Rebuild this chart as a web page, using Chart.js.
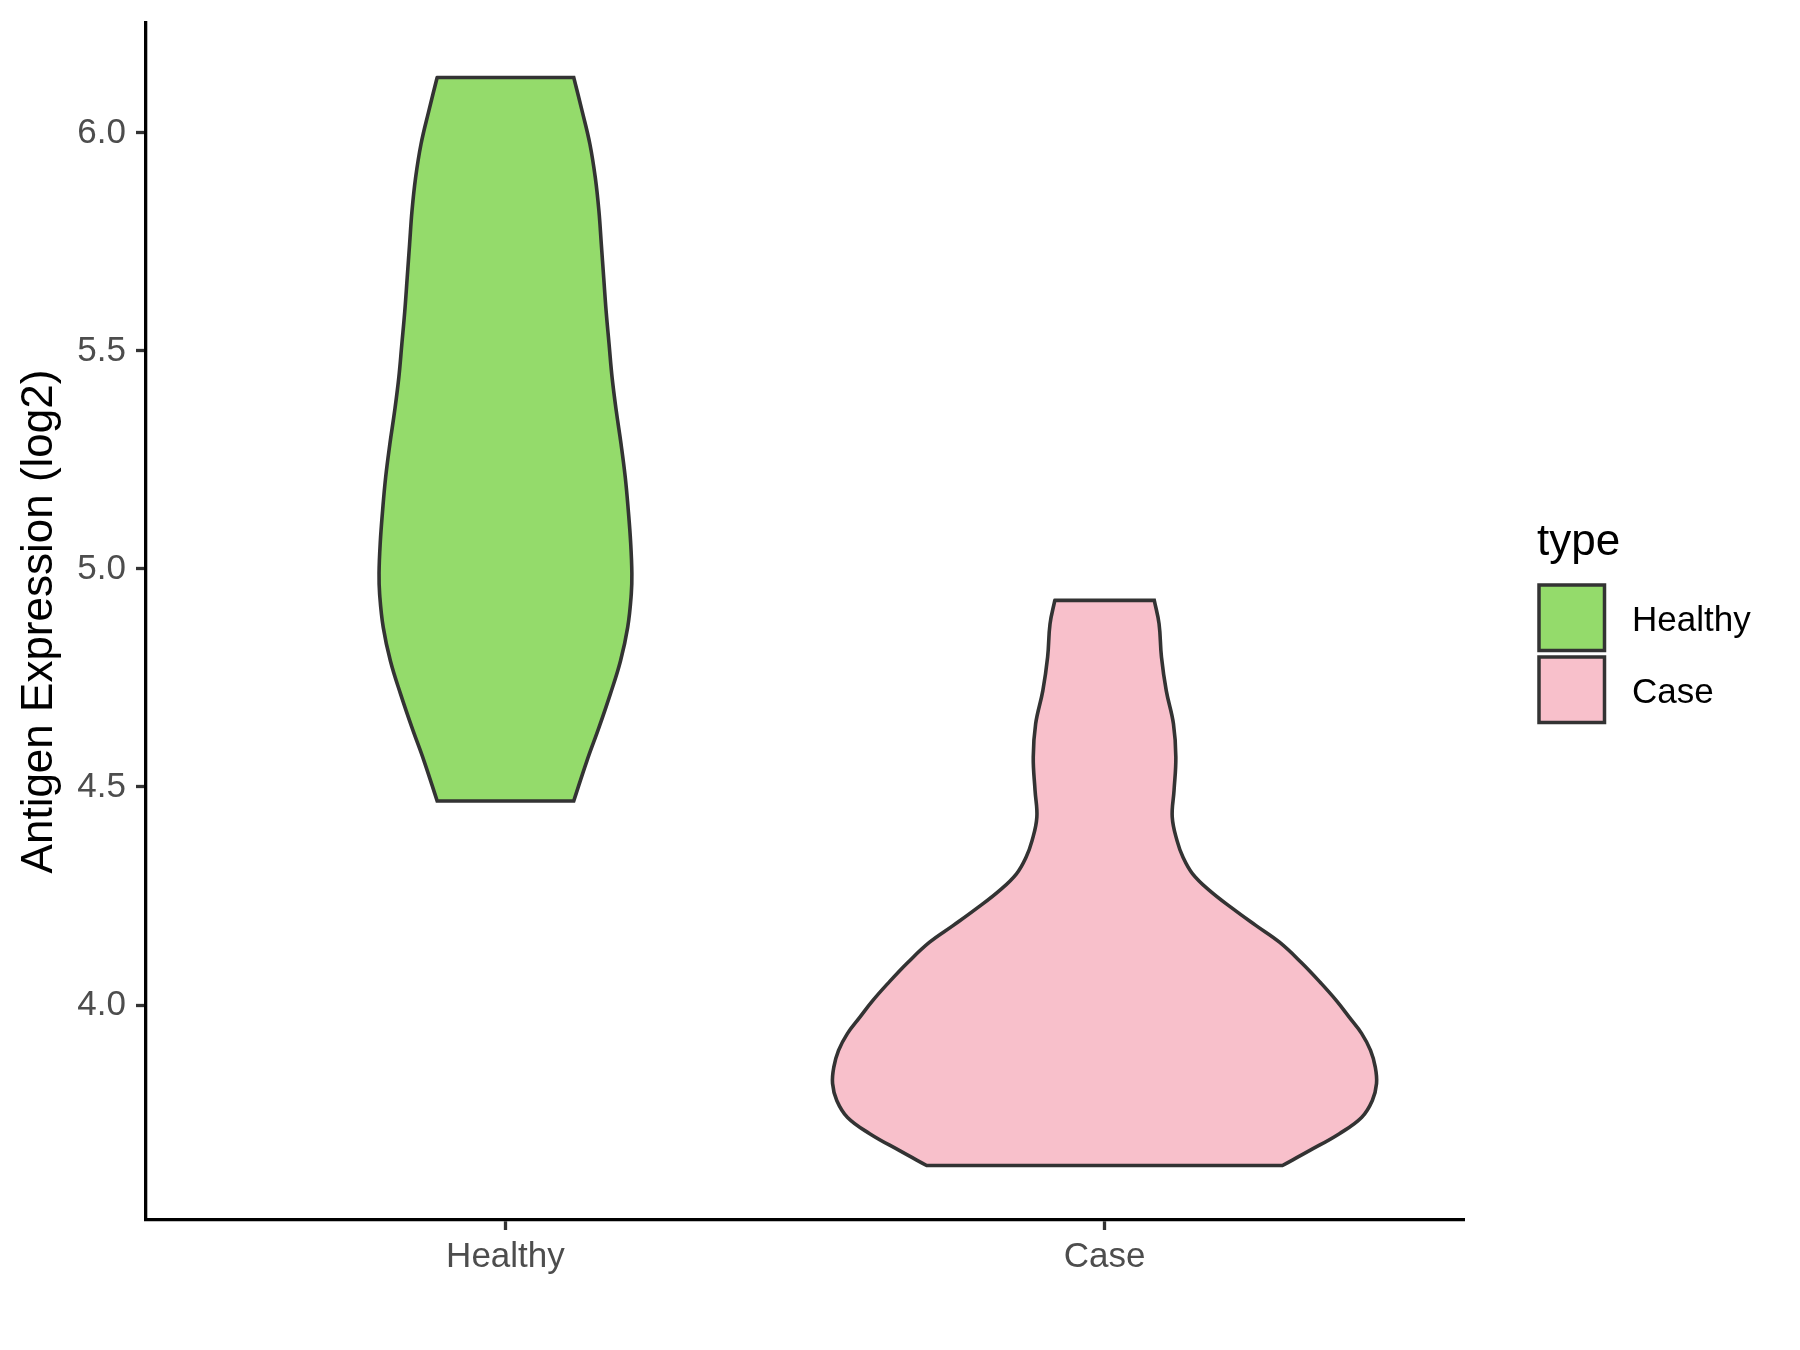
<!DOCTYPE html>
<html lang="en">
<head>
<meta charset="UTF-8">
<title>Antigen Expression</title>
<script src="https://cdn.jsdelivr.net/npm/chart.js"></script>
<style>
    body { margin: 0; background: #fff; }
    #wrap { width: 1800px; height: 1350px; }
</style>
</head>
<body>
<div id="wrap"><canvas id="violinChart" width="1800" height="1350"></canvas></div>
<script>
// groups on the x axis and their fill colours
const groups = ['Healthy', 'Case'];
const groupColors = ['#94DB6B', '#F8C0CB'];
const yTicks = [4.0, 4.5, 5.0, 5.5, 6.0];

// violin outlines, top to bottom:
// level (log2) and half width (in x-axis units)
const healthyLevels = [6.127, 6.050, 5.974, 5.897, 5.821, 5.745, 5.668, 5.592, 5.515, 5.439, 5.362, 5.286, 5.210,
    5.135, 5.060, 4.990, 4.942, 4.866, 4.789, 4.713, 4.636, 4.560, 4.468];
const healthyHalfWidth = [0.114, 0.128, 0.141, 0.150, 0.156, 0.160, 0.164, 0.168, 0.173, 0.178, 0.185, 0.193, 0.200,
    0.205, 0.209, 0.211, 0.210, 0.204, 0.192, 0.175, 0.156, 0.136, 0.114];

const caseLevels = [4.928, 4.874, 4.798, 4.721, 4.645, 4.568, 4.492, 4.431, 4.377, 4.339, 4.301, 4.263, 4.221, 4.182,
    4.144, 4.098, 4.049, 4.010, 3.971, 3.935, 3.896, 3.857, 3.820, 3.781, 3.742, 3.705, 3.666, 3.632];
const caseHalfWidth = [0.083, 0.091, 0.095, 0.103, 0.115, 0.119, 0.116, 0.113, 0.121, 0.131, 0.147, 0.175, 0.214, 0.253,
    0.292, 0.328, 0.362, 0.387, 0.409, 0.429, 0.444, 0.452, 0.454, 0.447, 0.429, 0.392, 0.342, 0.297];

const FONT = '"Liberation Sans", Arial, Helvetica, sans-serif';

// closed outline: top edge, right side down, bottom edge, left side up.
// corners are doubled so the spline keeps the flat ends straight
function violinPath(center, levels, halfWidth) {
    const right = levels.map((y, i) => ({ x: center + halfWidth[i], y: y }));
    const left = levels.map((y, i) => ({ x: center - halfWidth[i], y: y })).reverse();
    const n = right.length;
    return [left[n - 1], right[0], right[0], ...right.slice(1, n - 1), right[n - 1], right[n - 1],
        left[0], left[0], ...left.slice(1, n - 1), left[n - 1], left[n - 1]];
}

function violinDataset(i, levels, halfWidth) {
    return {
        label: groups[i],
        data: violinPath(i + 1, levels, halfWidth),
        showLine: true,
        fill: 'shape',
        backgroundColor: groupColors[i],
        borderColor: '#333333',
        borderWidth: 3.6,
        borderJoinStyle: 'miter',
        borderCapStyle: 'round',
        tension: 0.4,
        pointRadius: 0,
        pointHoverRadius: 0
    };
}

// legend drawn like the ggplot key on the right
const typeLegend = {
    id: 'typeLegend',
    afterDraw(chart) {
        const ctx = chart.ctx;
        ctx.save();
        ctx.textBaseline = 'alphabetic';
        ctx.textAlign = 'left';
        ctx.fillStyle = '#000000';
        ctx.font = '44px ' + FONT;
        ctx.fillText('type', 1537, 555);
        groups.forEach((g, i) => {
            const top = 585 + i * 72;
            ctx.fillStyle = groupColors[i];
            ctx.fillRect(1539, top, 65.5, 65.5);
            ctx.strokeStyle = '#333333';
            ctx.lineWidth = 3.5;
            ctx.strokeRect(1539, top, 65.5, 65.5);
            ctx.fillStyle = '#000000';
            ctx.font = '35px ' + FONT;
            ctx.fillText(g, 1632, top + 46);
        });
        ctx.restore();
    }
};

const ctx = document.getElementById('violinChart').getContext('2d');
const violinChart = new Chart(ctx, {
    type: 'scatter',
    data: {
        datasets: [
            violinDataset(0, healthyLevels, healthyHalfWidth),
            violinDataset(1, caseLevels, caseHalfWidth)
        ]
    },
    options: {
        responsive: false,
        devicePixelRatio: 1,
        animation: false,
        layout: { padding: { top: 23, right: 336, left: 0, bottom: 0 } },
        plugins: {
            legend: { display: false },
            tooltip: { enabled: false }
        },
        scales: {
            x: {
                type: 'linear',
                min: 0.4,
                max: 2.6,
                afterBuildTicks: (scale) => { scale.ticks = groups.map((g, i) => ({ value: i + 1 })); },
                afterFit: (scale) => { scale.height = 130; scale.paddingLeft = 0; scale.paddingRight = 0; },
                ticks: {
                    callback: (v) => groups[v - 1],
                    color: '#4D4D4D',
                    font: { family: FONT, size: 35 },
                    padding: 6,
                    maxRotation: 0
                },
                grid: { display: true, drawOnChartArea: false, drawTicks: true, tickLength: 10, tickColor: '#333333', tickWidth: 3.3 },
                border: { display: true, color: '#000000', width: 3.3 }
            },
            y: {
                min: 3.507,
                max: 6.252,
                afterBuildTicks: (scale) => { scale.ticks = yTicks.map(v => ({ value: v })); },
                afterFit: (scale) => { scale.width = 146; scale.paddingTop = 0; scale.paddingBottom = 0; },
                ticks: {
                    callback: (v) => v.toFixed(1),
                    color: '#4D4D4D',
                    font: { family: FONT, size: 35 },
                    padding: 10
                },
                grid: { display: true, drawOnChartArea: false, drawTicks: true, tickLength: 10, tickColor: '#333333', tickWidth: 3.3 },
                border: { display: true, color: '#000000', width: 3.3 },
                title: {
                    display: true,
                    text: 'Antigen Expression (log2)',
                    color: '#000000',
                    font: { family: FONT, size: 44 },
                    padding: { top: 13, bottom: 0 }
                }
            }
        }
    },
    plugins: [typeLegend]
});
</script>
</body>
</html>
